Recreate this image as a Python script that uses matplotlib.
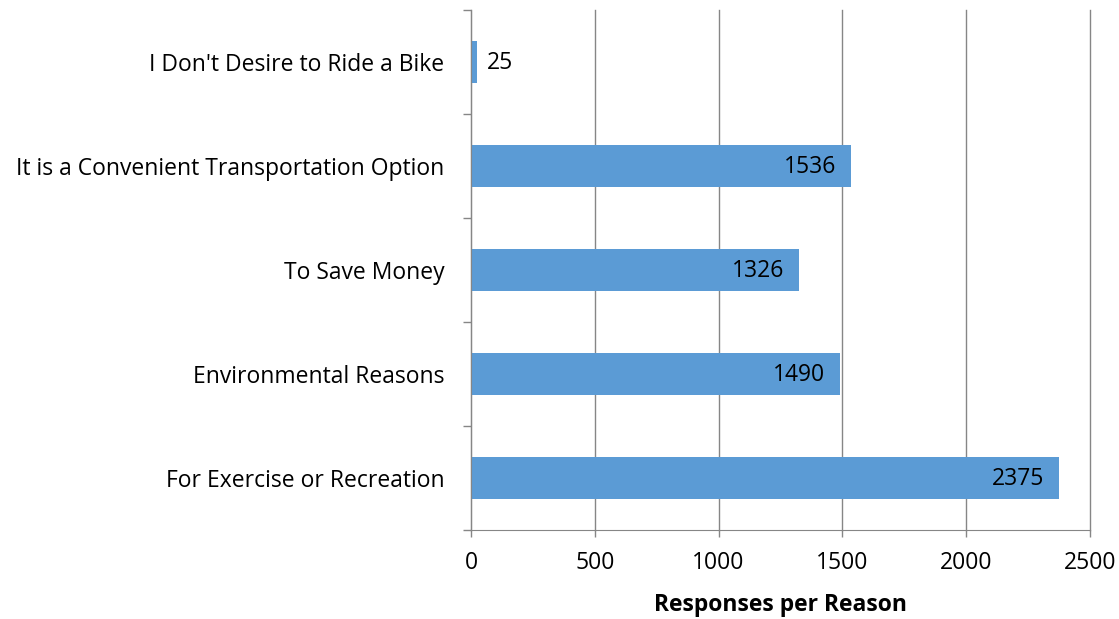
import matplotlib
matplotlib.use("Agg")
import matplotlib.pyplot as plt

categories = ["For Exercise or Recreation", "Environmental Reasons", "To Save Money",
              "It is a Convenient Transportation Option", "I Don't Desire to Ride a Bike"]
values = [2375, 1490, 1326, 1536, 25]
xticks = [0, 500, 1000, 1500, 2000, 2500]

plt.rcParams['font.family'] = ['Open Sans', 'DejaVu Sans']
FS = 16.5

fig = plt.figure(figsize=(11.19, 6.19), dpi=100)
ax = fig.add_axes([471/1119, 1-530/619, (1090-471)/1119, (530-10)/619])

bar_color = "#5B9BD5"
grey = "#868686"
ypos = list(range(len(categories)))
ax.barh(ypos, values, height=0.4, color=bar_color, zorder=3)

ax.set_xlim(0, 2500)
ax.set_ylim(-0.5, len(categories) - 0.5)
ax.set_xticks(xticks)
ax.set_xticklabels([str(t) for t in xticks], fontsize=FS)
ax.set_yticks(ypos)
ax.set_yticklabels(categories, fontsize=FS)
ax.tick_params(axis='y', length=0, pad=19)
ax.set_yticks([i - 0.5 for i in range(len(categories) + 1)], minor=True)
ax.tick_params(axis='y', which='minor', length=6, color=grey, width=1)
ax.tick_params(axis='x', length=5, color=grey, width=1, pad=10)

ax.grid(axis='x', color=grey, linewidth=1, zorder=0)
for s in ["top", "right"]:
    ax.spines[s].set_visible(False)
for s in ["left", "bottom"]:
    ax.spines[s].set_color(grey)
    ax.spines[s].set_zorder(4)
for gl in ax.get_xgridlines():
    gl.set_clip_on(False)

for y, v in zip(ypos, values):
    if v > 200:
        ax.annotate(str(v), xy=(v, y), xytext=(-11, -1), textcoords='offset points',
                    ha='right', va='center', fontsize=FS, color='black', zorder=5)
    else:
        ax.annotate(str(v), xy=(v, y), xytext=(7, -1), textcoords='offset points',
                    ha='left', va='center', fontsize=FS, color='black', zorder=5)

ax.set_xlabel("Responses per Reason", fontsize=FS, fontweight='bold', labelpad=13)

fig.savefig("out.png", dpi=100)
